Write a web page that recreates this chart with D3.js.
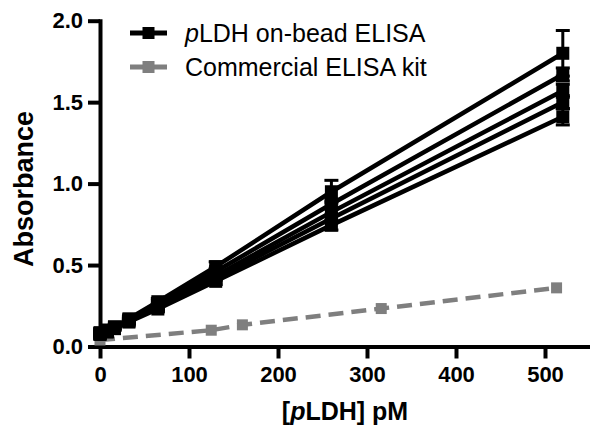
<!DOCTYPE html>
<html><head><meta charset="utf-8">
<script src="https://cdn.jsdelivr.net/npm/d3@7"></script>
<style>body{margin:0;background:#fff}svg{display:block}</style>
</head><body>
<svg id="c" width="590" height="429"></svg>
<script>
// Data
const onBeadX = [0, 8.125, 16.25, 32.5, 65, 130, 260, 520];
const onBead1 = [0.085, 0.10, 0.12, 0.17, 0.275, 0.49, 0.95, 1.80];
const onBead2 = [0.08, 0.10, 0.12, 0.165, 0.265, 0.46, 0.875, 1.67];
const onBead3 = [0.08, 0.095, 0.115, 0.16, 0.25, 0.435, 0.825, 1.57];
const onBead4 = [0.075, 0.09, 0.11, 0.155, 0.24, 0.42, 0.785, 1.50];
const onBead5 = [0.075, 0.09, 0.11, 0.15, 0.23, 0.40, 0.745, 1.41];
const onBeadErr1 = [0.01, 0.01, 0.01, 0.015, 0.02, 0.03, 0.07, 0.14];
const onBeadErr2 = [0.01, 0.01, 0.01, 0.01, 0.015, 0.02, 0.02, 0.04];
const onBeadErr3 = [0.01, 0.01, 0.01, 0.01, 0.015, 0.02, 0.02, 0.04];
const onBeadErr4 = [0.01, 0.01, 0.01, 0.01, 0.015, 0.02, 0.02, 0.04];
const onBeadErr5 = [0.01, 0.01, 0.01, 0.01, 0.015, 0.02, 0.03, 0.05];
const kitX = [0, 125, 160, 316, 513];
const kitY = [0.04, 0.10, 0.133, 0.233, 0.36];
const xTicks = [0, 100, 200, 300, 400, 500];
const yTicks = [0.0, 0.5, 1.0, 1.5, 2.0];
const legendLabels = ["on-bead ELISA", "Commercial ELISA kit"];

const svg = d3.select("#c");
const x = d3.scaleLinear().domain([0, 550]).range([100, 589.5]);
const y = d3.scaleLinear().domain([0, 2]).range([346.5, 20.7]);

const black = "#000", gray = "#7f7f7f";
const FONT = "'Liberation Sans', Arial, sans-serif";

// Axes
const xAxis = svg.append("g").attr("transform", `translate(0,${y(0)})`)
  .call(d3.axisBottom(x).tickValues(xTicks).tickSize(12).tickSizeOuter(0).tickPadding(8).tickFormat(d3.format("d")));
const yAxis = svg.append("g").attr("transform", `translate(${x(0)},0)`)
  .call(d3.axisLeft(y).tickValues(yTicks).tickSize(12).tickSizeOuter(0).tickPadding(5).tickFormat(d3.format(".1f")));
[xAxis, yAxis].forEach(g => {
  g.select(".domain").attr("stroke", black).attr("stroke-width", 4).attr("stroke-linecap", "square");
  g.selectAll(".tick line").attr("stroke", black).attr("stroke-width", 4);
  g.selectAll(".tick text").attr("fill", black)
    .style("font-family", FONT).style("font-weight", "bold").style("font-size", "22px");
});

// Commercial kit (dashed gray)
const kit = kitX.map((d, i) => [d, kitY[i]]);
svg.append("path").datum(kit)
  .attr("d", d3.line().x(d => x(d[0])).y(d => y(d[1])))
  .attr("fill", "none").attr("stroke", gray).attr("stroke-width", 4.5).attr("stroke-dasharray", "15,8");
svg.selectAll(".kitm").data(kit).enter().append("rect")
  .attr("x", d => x(d[0]) - 5.5).attr("y", d => y(d[1]) - 5.5)
  .attr("width", 11).attr("height", 11).attr("fill", gray);

// On-bead series (black)
const series = [onBead1, onBead2, onBead3, onBead4, onBead5];
const errs = [onBeadErr1, onBeadErr2, onBeadErr3, onBeadErr4, onBeadErr5];
series.forEach((s, k) => {
  const pts = onBeadX.map((d, i) => [d, s[i], errs[k][i]]);
  const g = svg.append("g");
  g.append("path").datum(pts)
    .attr("d", d3.line().x(d => x(d[0])).y(d => y(d[1])))
    .attr("fill", "none").attr("stroke", black).attr("stroke-width", 4.5);
  pts.forEach(d => {
    g.append("line").attr("x1", x(d[0])).attr("x2", x(d[0]))
      .attr("y1", y(d[1] - d[2])).attr("y2", y(d[1] + d[2]))
      .attr("stroke", black).attr("stroke-width", 3);
    [d[1] - d[2], d[1] + d[2]].forEach(v => {
      g.append("line").attr("x1", x(d[0]) - 7).attr("x2", x(d[0]) + 7)
        .attr("y1", y(v)).attr("y2", y(v)).attr("stroke", black).attr("stroke-width", 3);
    });
    g.append("rect").attr("x", x(d[0]) - 6.5).attr("y", y(d[1]) - 6.5)
      .attr("width", 13).attr("height", 13).attr("fill", black);
  });
});

// Legend
const leg = [{c: black, y: 33}, {c: gray, y: 67}];
leg.forEach((l, i) => {
  svg.append("line").attr("x1", 130).attr("x2", 167).attr("y1", l.y).attr("y2", l.y)
    .attr("stroke", l.c).attr("stroke-width", 5);
  svg.append("rect").attr("x", 148.5 - 6).attr("y", l.y - 6).attr("width", 12).attr("height", 12).attr("fill", l.c);
  const t = svg.append("text").attr("x", 185).attr("y", l.y).attr("dy", "0.36em")
    .style("font-family", FONT).style("font-size", "25px").attr("fill", black);
  if (i === 0) {
    t.append("tspan").style("font-style", "italic").text("p");
    t.append("tspan").text("LDH " + legendLabels[0]);
  } else {
    t.text(legendLabels[1]);
  }
});

// Axis titles
const xt = svg.append("text").attr("x", 345).attr("y", 420).attr("text-anchor", "middle")
  .style("font-family", FONT).style("font-weight", "bold").style("font-size", "25px");
xt.append("tspan").text("[");
xt.append("tspan").style("font-style", "italic").text("p");
xt.append("tspan").text("LDH] pM");

svg.append("text").attr("transform", "translate(33,189) rotate(-90)").attr("text-anchor", "middle")
  .style("font-family", FONT).style("font-weight", "bold").style("font-size", "27px")
  .text("Absorbance");
</script>
</body></html>
